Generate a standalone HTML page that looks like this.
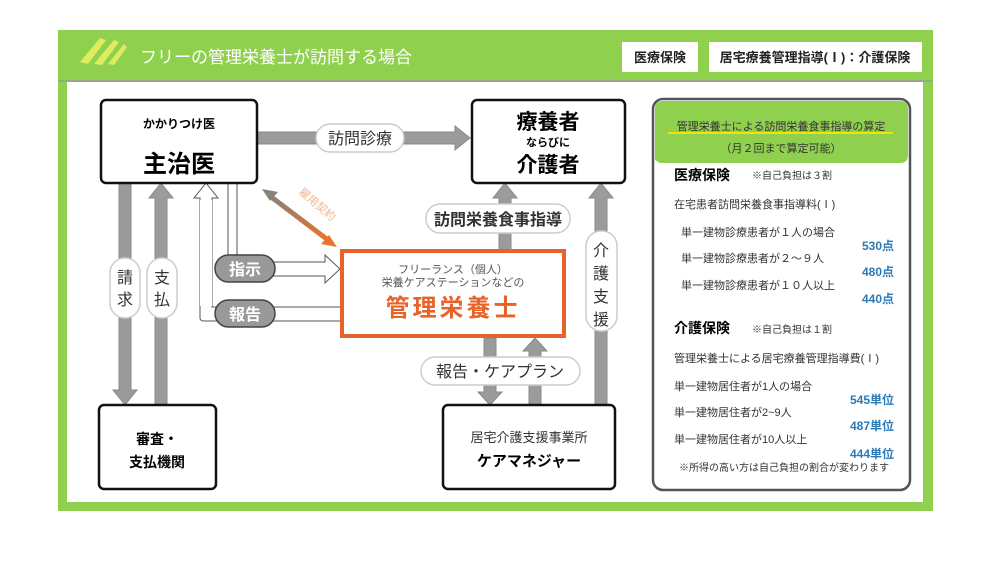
<!DOCTYPE html>
<html><head><meta charset="utf-8"><style>
body{margin:0;background:#fff;}
svg{display:block;font-family:"Liberation Sans","Noto Sans CJK JP",sans-serif;}
</style></head><body>
<svg width="1000" height="563" viewBox="0 0 1000 563" xmlns="http://www.w3.org/2000/svg">
<defs>
<linearGradient id="dg" x1="0" y1="0" x2="1" y2="1"><stop offset="0" stop-color="#8a8178"/><stop offset="1" stop-color="#e8742e"/></linearGradient>
</defs>
<rect x="58" y="30" width="875" height="481" fill="#8fd14f"/>
<rect x="67" y="82" width="856" height="420" fill="#fff"/>
<line x1="58" y1="81" x2="933" y2="81" stroke="#9a9a9a" stroke-width="1.5"/>
<!-- logo -->
<g fill="#e8f060" opacity="0.9">
<path d="M80 62 L100 38 L106 40 L88 64Z"/><path d="M94 64 L114 40 L119 42 L102 65Z"/><path d="M108 64 L124 44 L127 47 L114 65Z"/>
</g>
<text x="140" y="63" font-size="17" fill="#fff">フリーの管理栄養士が訪問する場合</text>
<rect x="622" y="42" width="76" height="30" fill="#fff"/>
<text x="660" y="62" font-size="13" font-weight="bold" text-anchor="middle" fill="#222">医療保険</text>
<rect x="709" y="42" width="213" height="30" fill="#fff"/>
<text x="815" y="62" font-size="13" font-weight="bold" text-anchor="middle" fill="#222">居宅療養管理指導(Ⅰ)：介護保険</text>

<!-- gray arrows -->
<g fill="#9b9b9b" stroke="#888" stroke-width="1">
<path d="M257 132 L455 132 L455 126 L470 138 L455 150 L455 144 L257 144Z"/>
<path d="M119 183 L131 183 L131 390 L137 390 L125 405 L113 390 L119 390Z"/>
<path d="M155 405 L167 405 L167 198 L173 198 L161 183 L149 198 L155 198Z"/>
<path d="M499 250 L511 250 L511 198 L517 198 L505 183 L493 198 L499 198Z"/>
<path d="M595 405 L607 405 L607 198 L613 198 L601 183 L589 198 L595 198Z"/>
<path d="M484 338 L496 338 L496 392 L502 392 L490 405 L478 392 L484 392Z"/>
<path d="M529 405 L541 405 L541 351 L547 351 L535 338 L523 351 L529 351Z"/>
</g>
<!-- hollow arrows -->
<g fill="none" stroke="#555" stroke-width="1">
<path d="M200 318 L200 198 L194 198 L206 183 L218 198 L212 198 L212 307 L341 307"/>
<path d="M200 318 Q200 321 204 321 L341 321"/>
<path d="M228 183 L228 262 L325 262 L325 255 L340 269 L325 283 L325 276 L237 276"/>
<path d="M237 183 L237 262"/>
</g>
<rect x="200" y="200" width="12" height="106" fill="#fff"/>
<!-- diagonal -->
<line x1="270" y1="196" x2="328" y2="240" stroke="url(#dg)" stroke-width="5"/>
<path d="M262 189 L278 192 L270 201Z" fill="#8a8178"/>
<path d="M337 247 L321 244 L329 235Z" fill="#e8742e"/>
<text x="0" y="0" font-size="11" fill="#f0b890" transform="translate(298,193) rotate(40)">雇用契約</text>

<!-- boxes -->
<g fill="#fff" stroke="#111" stroke-width="2.5">
<rect x="101" y="100" width="156" height="83" rx="5"/>
<rect x="472" y="100" width="153" height="83" rx="5"/>
<rect x="99" y="405" width="117" height="84" rx="5"/>
<rect x="443" y="405" width="172" height="84" rx="5"/>
</g>
<rect x="342" y="251" width="222" height="85" fill="#fff" stroke="#e8632a" stroke-width="4"/>
<text x="179" y="128" font-size="12" font-weight="bold" text-anchor="middle">かかりつけ医</text>
<text x="179" y="172" font-size="24" font-weight="bold" text-anchor="middle">主治医</text>
<text x="548" y="129" font-size="21" font-weight="bold" text-anchor="middle">療養者</text>
<text x="548" y="146" font-size="11" font-weight="bold" text-anchor="middle">ならびに</text>
<text x="548" y="172" font-size="21" font-weight="bold" text-anchor="middle">介護者</text>
<text x="157" y="444" font-size="14" font-weight="bold" text-anchor="middle">審査・</text>
<text x="157" y="467" font-size="14" font-weight="bold" text-anchor="middle">支払機関</text>
<text x="529" y="442" font-size="13" text-anchor="middle" fill="#333">居宅介護支援事業所</text>
<text x="529" y="466" font-size="15" font-weight="bold" text-anchor="middle">ケアマネジャー</text>
<text x="453" y="273" font-size="11" text-anchor="middle" fill="#555">フリーランス（個人）</text>
<text x="453" y="286" font-size="11" text-anchor="middle" fill="#555">栄養ケアステーションなどの</text>
<text x="453" y="316" font-size="24" font-weight="bold" text-anchor="middle" fill="#e8632a" letter-spacing="3">管理栄養士</text>

<!-- label pills -->
<g fill="#fff" stroke="#ccc" stroke-width="1.5">
<rect x="316" y="124" width="88" height="28" rx="14"/>
<rect x="426" y="204" width="144" height="29" rx="14"/>
<rect x="421" y="357" width="159" height="28" rx="14"/>
<rect x="110" y="258" width="30" height="60" rx="15"/>
<rect x="147" y="258" width="30" height="60" rx="15"/>
<rect x="586" y="231" width="31" height="100" rx="15"/>
</g>
<text x="360" y="144" font-size="16" text-anchor="middle" fill="#333">訪問診療</text>
<text x="498" y="225" font-size="16" font-weight="bold" text-anchor="middle" fill="#333">訪問栄養食事指導</text>
<text x="500" y="377" font-size="16" text-anchor="middle" fill="#333">報告・ケアプラン</text>
<g font-size="16" text-anchor="middle" fill="#333">
<text x="125" y="283">請</text><text x="125" y="305">求</text>
<text x="162" y="283">支</text><text x="162" y="305">払</text>
<text x="601" y="256">介</text><text x="601" y="279">護</text><text x="601" y="302">支</text><text x="601" y="325">援</text>
</g>
<rect x="215" y="255" width="60" height="27" rx="13.5" fill="#999" stroke="#444" stroke-width="1.5"/>
<rect x="215" y="300" width="60" height="27" rx="13.5" fill="#999" stroke="#444" stroke-width="1.5"/>
<text x="245" y="275" font-size="16" font-weight="bold" text-anchor="middle" fill="#fff">指示</text>
<text x="245" y="320" font-size="16" font-weight="bold" text-anchor="middle" fill="#fff">報告</text>

<!-- right panel -->
<rect x="653" y="99" width="257" height="391" rx="10" fill="#fff" stroke="#555" stroke-width="2.5"/>
<path d="M655 160 L655 109 Q655 101 663 101 L900 101 Q908 101 908 109 L908 155 Q908 163 900 163 L660 163Z" fill="#8fd14f"/>
<line x1="668" y1="133" x2="893" y2="133" stroke="#f2e600" stroke-width="2"/>
<text x="781" y="130" font-size="11" text-anchor="middle" fill="#333">管理栄養士による訪問栄養食事指導の算定</text>
<text x="781" y="152" font-size="11" text-anchor="middle" fill="#333">（月２回まで算定可能）</text>
<text x="674" y="180" font-size="14" font-weight="bold">医療保険</text>
<text x="752" y="179" font-size="10" fill="#333">※自己負担は３割</text>
<text x="674" y="208" font-size="11" fill="#333">在宅患者訪問栄養食事指導料(Ⅰ)</text>
<g font-size="11" fill="#333">
<text x="681" y="236">単一建物診療患者が１人の場合</text>
<text x="681" y="262">単一建物診療患者が２～９人</text>
<text x="681" y="289">単一建物診療患者が１０人以上</text>
</g>
<g font-size="12" font-weight="bold" fill="#2a7ab8" text-anchor="end">
<text x="894" y="250">530点</text><text x="894" y="276">480点</text><text x="894" y="303">440点</text>
</g>
<text x="674" y="333" font-size="14" font-weight="bold">介護保険</text>
<text x="752" y="333" font-size="10" fill="#333">※自己負担は１割</text>
<g font-size="11" fill="#333">
<text x="674" y="362">管理栄養士による居宅療養管理指導費(Ⅰ)</text>
<text x="674" y="390">単一建物居住者が1人の場合</text>
<text x="674" y="416">単一建物居住者が2~9人</text>
<text x="674" y="443">単一建物居住者が10人以上</text>
</g>
<g font-size="12" font-weight="bold" fill="#2a7ab8" text-anchor="end">
<text x="894" y="404">545単位</text><text x="894" y="430">487単位</text><text x="894" y="458">444単位</text>
</g>
<text x="784" y="471" font-size="10" text-anchor="middle" fill="#333">※所得の高い方は自己負担の割合が変わります</text>
</svg>
</body></html>
